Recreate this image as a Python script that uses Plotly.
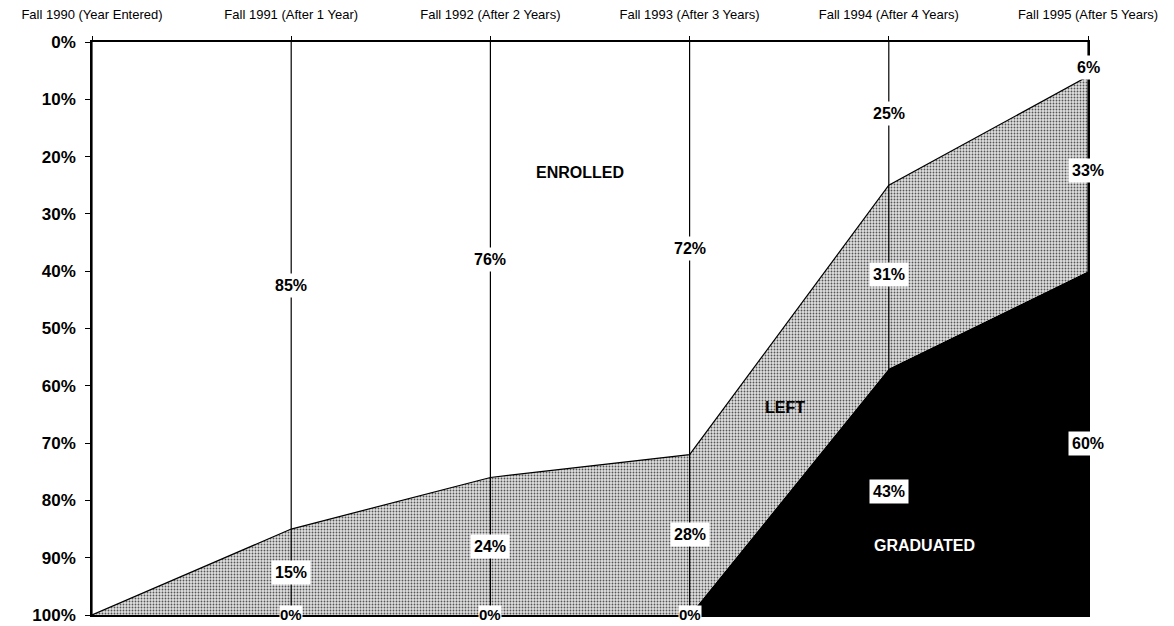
import plotly.graph_objects as go

categories = ["Fall 1990 (Year Entered)", "Fall 1991 (After 1 Year)", "Fall 1992 (After 2 Years)",
              "Fall 1993 (After 3 Years)", "Fall 1994 (After 4 Years)", "Fall 1995 (After 5 Years)"]
enrolled = [100, 85, 76, 72, 25, 6]
left = [0, 15, 24, 28, 31, 33]
graduated = [0, 0, 0, 0, 43, 60]
series_names = ["ENROLLED", "LEFT", "GRADUATED"]
y_ticks = list(range(0, 101, 10))

x = list(range(len(categories)))
grad_top = [100 - g for g in graduated]
base = [100] * len(x)

fig = go.Figure()
# baseline at 100%
fig.add_trace(go.Scatter(x=x, y=base, mode="lines", line=dict(width=0, color="black"),
                         showlegend=False, hoverinfo="skip"))
# graduated area (black)
fig.add_trace(go.Scatter(x=x, y=grad_top, mode="lines", fill="tonexty", fillcolor="black",
                         line=dict(width=0, color="black"), showlegend=False, hoverinfo="skip"))
# left area (stipple gray) up to enrolled boundary
fig.add_trace(go.Scatter(x=x, y=enrolled, mode="lines", fill="tonexty",
                         fillpattern=dict(shape=".", size=3, solidity=0.3, fgcolor="#555555",
                                          bgcolor="#e0e0e0", fillmode="replace"),
                         line=dict(width=1.2, color="black"), showlegend=False, hoverinfo="skip"))
# vertical category lines
vx, vy = [], []
for i in x:
    vx += [i, i, None]
    vy += [0, 100, None]
fig.add_trace(go.Scatter(x=vx, y=vy, mode="lines", line=dict(width=1.2, color="black"),
                         showlegend=False, hoverinfo="skip"))

lab_font = dict(family="Liberation Sans, Arial", size=16, color="black", weight="bold")
for i in x[1:]:
    fig.add_annotation(x=i, y=enrolled[i] / 2, text=f"{enrolled[i]}%", showarrow=False,
                       yshift=-8 if enrolled[i] < 10 else 0,
                       font=lab_font, bgcolor="white", borderpad=3)
    fig.add_annotation(x=i, y=enrolled[i] + left[i] / 2, text=f"{left[i]}%", showarrow=False,
                       font=lab_font, bgcolor="white", borderpad=3)
    if graduated[i] > 0:
        fig.add_annotation(x=i, y=100 - graduated[i] / 2, text=f"{graduated[i]}%", showarrow=False,
                           font=lab_font, bgcolor="white", borderpad=3)
    else:
        fig.add_annotation(x=i, y=100, text=f"{graduated[i]}%", showarrow=False, yshift=1,
                           font=dict(lab_font, size=15), bgcolor="white", borderpad=0)

name_font = dict(family="Liberation Sans, Arial", size=16, color="black", weight="bold")
fig.add_annotation(x=2.45, y=22.7, text=series_names[0], showarrow=False, font=name_font)
fig.add_annotation(x=3.48, y=63.7, text=series_names[1], showarrow=False, font=name_font)
fig.add_annotation(x=4.18, y=87.8, text=series_names[2], showarrow=False,
                   font=dict(name_font, color="white"))

fig.update_layout(
    width=1166, height=618, autosize=False,
    margin=dict(l=84, r=86, t=34, b=11, autoexpand=False),
    paper_bgcolor="white", plot_bgcolor="white",
    showlegend=False,
)
fig.update_xaxes(
    range=[0, 5], tickvals=x, ticktext=categories, side="top", automargin=False,
    showgrid=False, zeroline=False,
    showline=True, linecolor="black", linewidth=1.5, mirror=True,
    ticks="outside", ticklen=4, tickcolor="black",
    ticklabelstandoff=12, ticklabeloverflow="allow",
    tickfont=dict(family="Liberation Sans, Arial", size=13, color="black"),
)
fig.update_yaxes(
    range=[100, 0], tickvals=y_ticks, ticktext=[f"{t}%" for t in y_ticks], automargin=False,
    showgrid=False, zeroline=False,
    showline=True, linecolor="black", linewidth=1.5, mirror=True,
    ticks="outside", ticklen=5, tickcolor="black",
    ticklabelstandoff=6, ticklabeloverflow="allow",
    tickfont=dict(family="Liberation Sans, Arial", size=17, color="black", weight="bold"),
)
fig.write_html("out.html")
